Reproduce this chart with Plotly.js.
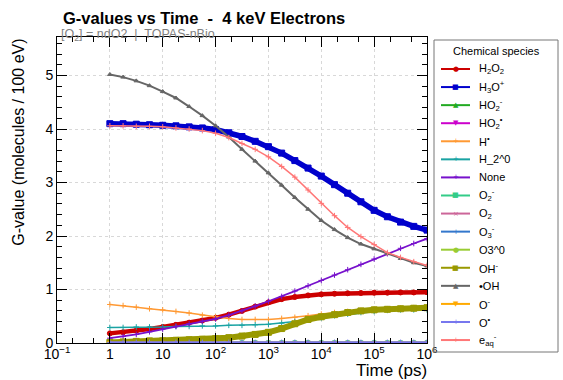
<!DOCTYPE html>
<html><head><meta charset="utf-8">
<script src="https://cdn.plot.ly/plotly-3.0.1.min.js"></script>
<style>html,body{margin:0;padding:0;background:#fff;}#chart{width:563px;height:380px;}</style>
</head><body><div id="chart"></div>
<script>
// Time points (ps)
const time = [1, 1.78, 3.16, 5.62, 10, 17.8, 31.6, 56.2, 100, 178, 316, 562, 1000, 1780, 3160, 5620, 1e4, 1.78e4, 3.16e4, 5.62e4, 1e5, 1.78e5, 3.16e5, 5.62e5, 1e6];

const H2O2   = [0.18,0.20,0.23,0.26,0.30,0.34,0.38,0.42,0.47,0.53,0.60,0.68,0.76,0.82,0.86,0.89,0.91,0.92,0.93,0.935,0.94,0.94,0.945,0.945,0.95];
const H3Op   = [4.10,4.10,4.09,4.08,4.07,4.06,4.04,4.02,3.99,3.93,3.86,3.77,3.67,3.55,3.41,3.27,3.12,2.96,2.80,2.64,2.48,2.36,2.26,2.18,2.11];
const HO2m   = [0.002,0.002,0.002,0.002,0.002,0.002,0.002,0.002,0.002,0.002,0.002,0.002,0.002,0.002,0.002,0.003,0.003,0.003,0.003,0.003,0.003,0.003,0.003,0.003,0.003];
const HO2r   = [0.001,0.001,0.001,0.001,0.001,0.001,0.001,0.001,0.001,0.001,0.001,0.001,0.001,0.001,0.001,0.001,0.001,0.001,0.001,0.001,0.001,0.001,0.001,0.001,0.001];
const Hr     = [0.72,0.70,0.67,0.64,0.62,0.59,0.56,0.52,0.49,0.46,0.44,0.44,0.44,0.46,0.48,0.51,0.54,0.57,0.59,0.61,0.63,0.64,0.65,0.66,0.66];
const H2_0   = [0.29,0.29,0.30,0.30,0.30,0.31,0.31,0.32,0.32,0.33,0.33,0.34,0.35,0.37,0.40,0.44,0.47,0.51,0.54,0.57,0.59,0.61,0.62,0.62,0.62];
const None_  = [0.09,0.12,0.16,0.21,0.26,0.31,0.36,0.41,0.45,0.52,0.60,0.69,0.78,0.87,0.97,1.07,1.17,1.27,1.37,1.47,1.57,1.67,1.77,1.86,1.95];
const O2m    = [0.003,0.003,0.003,0.003,0.003,0.003,0.003,0.003,0.003,0.003,0.003,0.003,0.003,0.003,0.003,0.003,0.003,0.003,0.003,0.003,0.003,0.003,0.003,0.003,0.003];
const O2     = [0.001,0.001,0.001,0.001,0.001,0.001,0.001,0.001,0.001,0.001,0.001,0.001,0.001,0.001,0.001,0.001,0.001,0.001,0.001,0.001,0.001,0.001,0.001,0.001,0.001];
const O3m    = [0.001,0.001,0.001,0.001,0.001,0.001,0.001,0.001,0.001,0.001,0.001,0.001,0.001,0.001,0.001,0.001,0.001,0.001,0.001,0.001,0.001,0.001,0.001,0.001,0.001];
const O3_0   = [0.001,0.001,0.001,0.001,0.001,0.001,0.001,0.001,0.001,0.001,0.001,0.001,0.001,0.001,0.001,0.001,0.001,0.001,0.001,0.001,0.001,0.001,0.001,0.001,0.001];
const OHm    = [0.01,0.02,0.03,0.04,0.04,0.05,0.06,0.07,0.08,0.10,0.13,0.16,0.20,0.27,0.36,0.44,0.49,0.53,0.57,0.60,0.62,0.63,0.64,0.65,0.66];
const OHr    = [5.02,4.97,4.90,4.81,4.70,4.58,4.42,4.25,4.06,3.85,3.62,3.40,3.18,2.95,2.72,2.50,2.29,2.12,1.97,1.85,1.76,1.67,1.58,1.50,1.44];
const Om     = [0.010,0.010,0.010,0.010,0.010,0.010,0.010,0.010,0.010,0.010,0.010,0.010,0.010,0.010,0.010,0.010,0.010,0.010,0.010,0.010,0.010,0.010,0.010,0.010,0.010];
const Or     = [0.012,0.012,0.012,0.012,0.012,0.012,0.012,0.012,0.012,0.012,0.012,0.012,0.012,0.012,0.012,0.012,0.012,0.012,0.012,0.012,0.012,0.012,0.012,0.012,0.012];
const eaq    = [4.06,4.06,4.05,4.05,4.04,4.02,4.00,3.97,3.92,3.84,3.73,3.62,3.48,3.30,3.10,2.86,2.61,2.38,2.16,1.99,1.84,1.69,1.60,1.52,1.45];

const names = ['H<sub>2</sub>O<sub>2</sub>','H<sub>3</sub>O<sup>+</sup>','HO<sub>2</sub><sup>-</sup>','HO<sub>2</sub><sup>•</sup>','H<sup>•</sup>','H_2^0','None','O<sub>2</sub><sup>-</sup>','O<sub>2</sub>','O<sub>3</sub><sup>-</sup>','O3^0','OH<sup>-</sup>','•OH','O<sup>-</sup>','O<sup>•</sup>','e<sub>aq</sub><sup>-</sup>'];
const series = [H2O2,H3Op,HO2m,HO2r,Hr,H2_0,None_,O2m,O2,O3m,O3_0,OHm,OHr,Om,Or,eaq];
const colors = ['#cc0000','#0000cc','#22aa22','#cc00cc','#ff9933','#1aa3a3','#7711cc','#33cc88','#cc6699','#3377cc','#99cc33','#999900','#666666','#ffaa00','#7777ee','#ff7777'];
const symbols = ['circle','square','triangle-up','triangle-down','cross-thin','cross-thin','cross-thin','square','x-thin','cross-thin','circle','square','triangle-up','triangle-down','cross-thin','cross-thin'];
const glyphs  = ['●','■','▲','▼','+','+','+','■','×','+','●','■','▲','▼','+','+'];
const lw = [4.5,5.5,2,2,1.5,1.5,1.8,2,2,2,2,6,2,2,2,1.5];
const ms = [5,6,4,4,4,4,4,4,4,4,4,6,4,4,4,4];

const traces = series.map((s,i)=>({
  x: time, y: s, name: names[i], type:'scatter', mode:'lines+markers', showlegend:false,
  line:{color:colors[i], width:lw[i]},
  marker:{color:colors[i], symbol:symbols[i], size:ms[i], line:{color:colors[i], width:1}}
}));

// pixel -> paper helpers (plot area: x 57..427, y 37..343)
const PX0=57, PX1=427, PY0=37, PY1=343;
const px = x => (x-PX0)/(PX1-PX0);
const py = y => (PY1-y)/(PY1-PY0);

const shapes = [
  {type:'rect', xref:'paper', yref:'paper', x0:px(434), x1:px(558), y0:py(40), y1:py(352), line:{color:'#777', width:1}, fillcolor:'rgba(255,255,255,0)'}
];
const annotations = [
  {text:'Time (ps)', xref:'paper', yref:'paper', x:1.005, xanchor:'right', y:py(371), yanchor:'middle', showarrow:false, font:{size:17}},
  {text:'G-value (molecules / 100 eV)', xref:'paper', yref:'paper', x:-0.105, xanchor:'center', y:1, yanchor:'top', textangle:-90, showarrow:false, font:{size:16}},
  {text:'[O<sub>2</sub>] = ndO2  |  TOPAS-nBio', xref:'paper', yref:'paper', x:px(59), xanchor:'left', y:py(35), yanchor:'middle', showarrow:false, font:{size:12.5, color:'#808080'}},
  {text:'Chemical species', xref:'paper', yref:'paper', x:px(496), xanchor:'center', y:py(51), yanchor:'middle', showarrow:false, font:{size:11}}
];
names.forEach((n,i)=>{
  const yy = 69 + i*18.07;
  shapes.push({type:'line', xref:'paper', yref:'paper', x0:px(441), x1:px(470), y0:py(yy), y1:py(yy), line:{color:colors[i], width:2}});
  annotations.push({text:glyphs[i], xref:'paper', yref:'paper', x:px(455.5), xanchor:'center', y:py(yy), yanchor:'middle', showarrow:false,
    font:{size:7, color:colors[i], family:'DejaVu Sans'}});
  annotations.push({text:n, xref:'paper', yref:'paper', x:px(477), xanchor:'left', y:py(yy), yanchor:'middle', showarrow:false, font:{size:11}});
});

const layout = {
  width:563, height:380,
  margin:{l:57, r:136, t:37, b:37},
  paper_bgcolor:'#fff', plot_bgcolor:'#fff',
  font:{family:'Liberation Sans, Arial, sans-serif', color:'#000'},
  title:{text:'<b>G-values vs Time  -  4 keV Electrons</b>', x:63/563, xanchor:'left', xref:'container', y:1-18/380, yanchor:'middle', yref:'container', font:{size:16.5, color:'#000'}},
  showlegend:false,
  xaxis:{type:'log', range:[-1,6], showline:true, linecolor:'#000', linewidth:1, mirror:'ticks',
    ticks:'inside', ticklen:10, tickcolor:'#000', ticklabelstandoff:-2,
    tickvals:[0.1,1,10,100,1000,1e4,1e5,1e6],
    ticktext:['10<sup>−1</sup>','1','10','10<sup>2</sup>','10<sup>3</sup>','10<sup>4</sup>','10<sup>5</sup>','10<sup>6</sup>'],
    tickfont:{size:14}, showgrid:true, gridcolor:'#d8d8d8', griddash:'dot', zeroline:false,
    minor:{ticks:'inside', ticklen:5, tickcolor:'#000', showgrid:false}},
  yaxis:{range:[0,5.72], showline:true, linecolor:'#000', linewidth:1, mirror:'ticks',
    ticks:'inside', ticklen:10, tickcolor:'#000', dtick:1, tick0:0,
    tickfont:{size:14}, showgrid:true, gridcolor:'#d8d8d8', griddash:'dot', zeroline:false,
    minor:{ticks:'inside', ticklen:5, dtick:0.2, tickcolor:'#000', showgrid:false}},
  shapes: shapes,
  annotations: annotations
};
Plotly.newPlot('chart', traces, layout, {displayModeBar:false, staticPlot:true});
</script></body></html>
